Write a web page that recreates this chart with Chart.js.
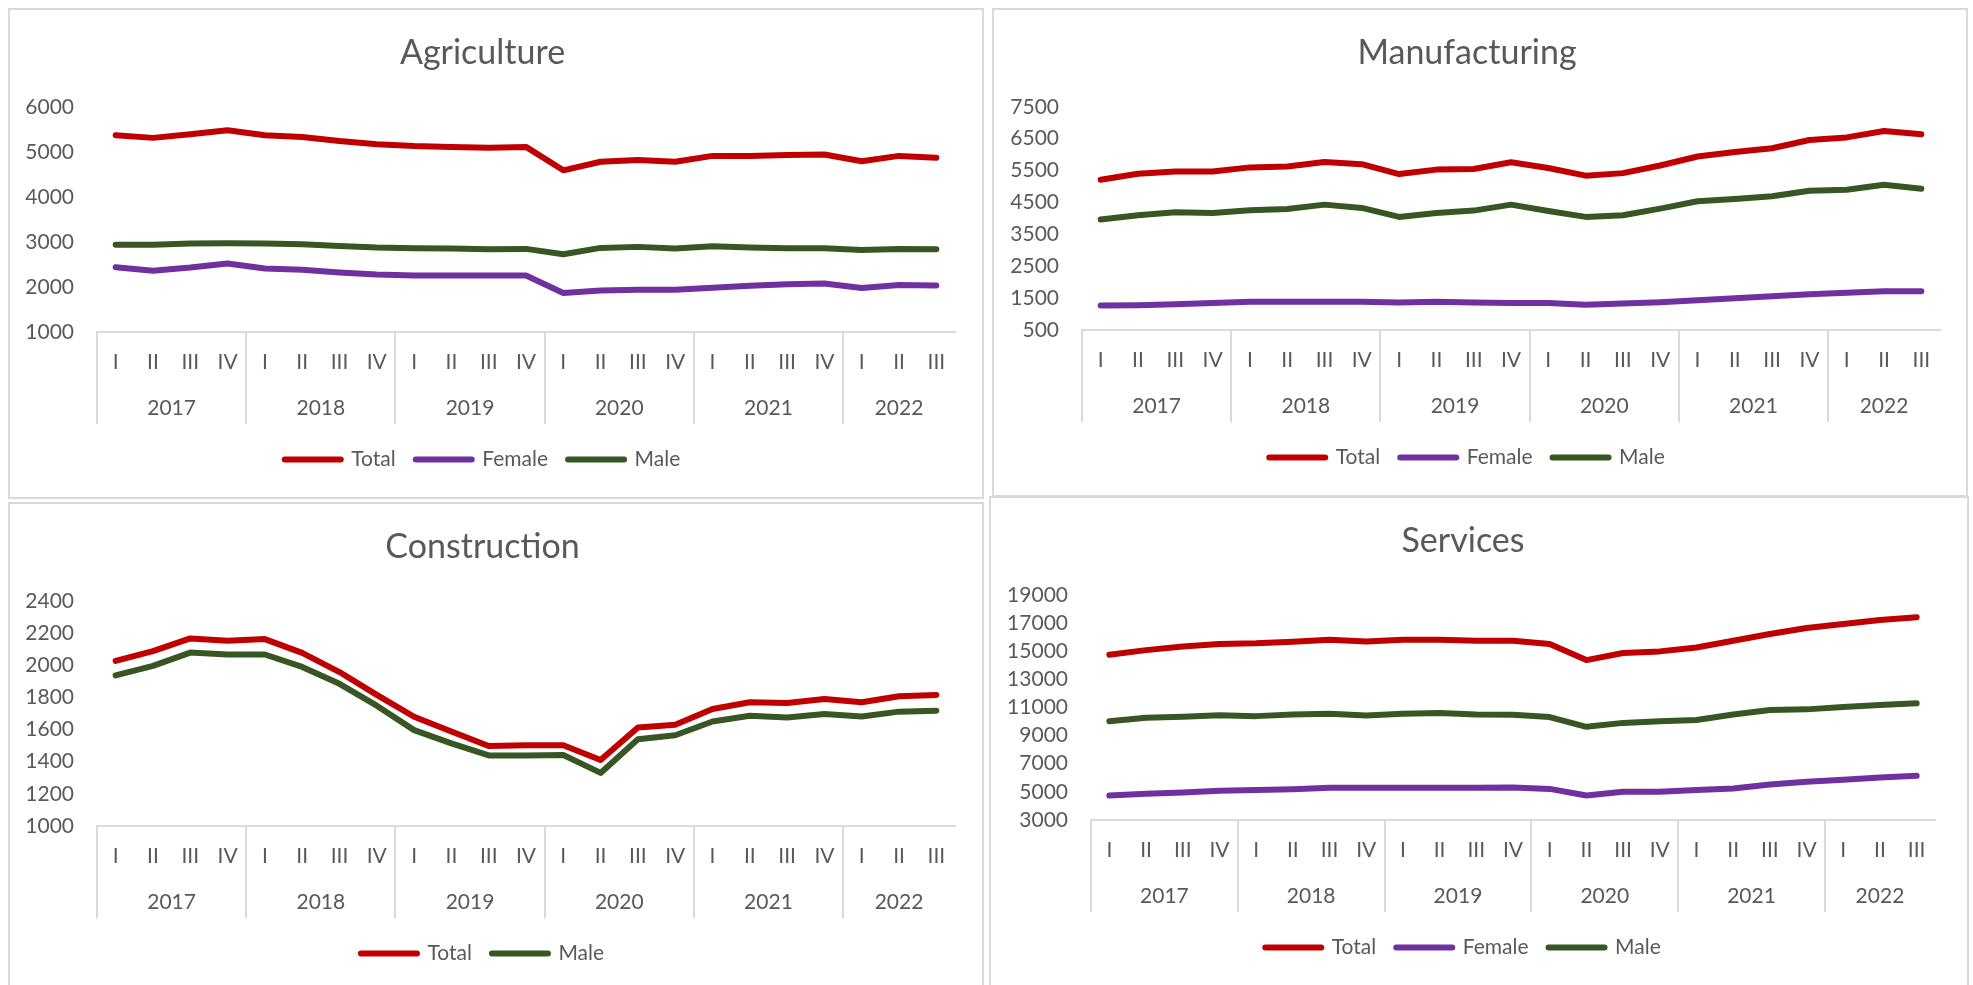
<!DOCTYPE html>
<html>
<head>
<meta charset="utf-8">
<script src="https://cdn.jsdelivr.net/npm/chart.js@4.4.1/dist/chart.umd.min.js"></script>
<style>
  body { margin: 0; background: #fff; width: 1973px; height: 985px; overflow: hidden; position: relative; }
  .panel { position: absolute; border: 2px solid #d9d9d9; box-sizing: border-box; background: #fff; overflow: hidden; }
  .panel canvas { position: absolute; left: 0; top: 0; }
</style>
</head>
<body>
<div class="panel" style="left:8px;top:8px;width:976px;height:491px"><canvas id="agri" width="972" height="487"></canvas></div>
<div class="panel" style="left:992px;top:8px;width:976px;height:489px"><canvas id="manu" width="972" height="485"></canvas></div>
<div class="panel" style="left:8px;top:502px;width:976px;height:490px"><canvas id="cons" width="972" height="487"></canvas></div>
<div class="panel" style="left:989px;top:496px;width:980px;height:496px"><canvas id="serv" width="976" height="487"></canvas></div>

<script>
// categories
const quarters = ['I','II','III','IV','I','II','III','IV','I','II','III','IV',
                  'I','II','III','IV','I','II','III','IV','I','II','III'];
const years = ['2017','2018','2019','2020','2021','2022'];
const quartersPerYear = [4, 4, 4, 4, 4, 3];

// Agriculture
const agriTicks = [1000, 2000, 3000, 4000, 5000, 6000];
const agriTotal  = [5370, 5310, 5390, 5480, 5370, 5330, 5240, 5170, 5130, 5110, 5090, 5110,
                    4590, 4780, 4820, 4780, 4910, 4910, 4930, 4940, 4790, 4910, 4870];
const agriFemale = [2440, 2360, 2430, 2520, 2410, 2380, 2320, 2275, 2255, 2255, 2255, 2255,
                    1865, 1920, 1937, 1937, 1980, 2025, 2062, 2078, 1975, 2045, 2032];
const agriMale   = [2935, 2935, 2964, 2972, 2964, 2950, 2912, 2875, 2860, 2853, 2838, 2845,
                    2726, 2867, 2890, 2853, 2905, 2875, 2860, 2860, 2823, 2845, 2838];

// Manufacturing
const manuTicks = [500, 1500, 2500, 3500, 4500, 5500, 6500, 7500];
const manuTotal  = [5210, 5400, 5470, 5470, 5600, 5630, 5770, 5700, 5390, 5530, 5550, 5760,
                    5580, 5340, 5420, 5660, 5940, 6080, 6200, 6460, 6540, 6740, 6640];
const manuFemale = [1270, 1280, 1310, 1350, 1384, 1384, 1384, 1384, 1363, 1384, 1363, 1343,
                    1343, 1290, 1332, 1374, 1436, 1499, 1561, 1623, 1665, 1717, 1717];
const manuMale   = [3964, 4100, 4190, 4170, 4255, 4297, 4432, 4328, 4047, 4172, 4245, 4432,
                    4234, 4047, 4099, 4307, 4536, 4609, 4692, 4869, 4900, 5056, 4931];

// Construction
const consTicks = [1000, 1200, 1400, 1600, 1800, 2000, 2200, 2400];
const consTotal = [2026, 2087, 2166, 2151, 2162, 2076, 1957, 1815, 1679, 1587, 1497, 1502,
                   1502, 1410, 1612, 1629, 1727, 1769, 1765, 1790, 1769, 1807, 1815];
const consMale  = [1936, 1995, 2078, 2066, 2066, 1989, 1884, 1748, 1596, 1514, 1439, 1439,
                   1441, 1330, 1539, 1564, 1650, 1685, 1675, 1696, 1681, 1711, 1717];

// Services
const servTicks = [3000, 5000, 7000, 9000, 11000, 13000, 15000, 17000, 19000];
const servTotal  = [14740, 15070, 15330, 15500, 15550, 15670, 15810, 15690, 15810, 15810, 15740, 15740,
                    15500, 14360, 14860, 14980, 15260, 15740, 16210, 16640, 16930, 17210, 17400];
const servFemale = [4740, 4860, 4950, 5070, 5140, 5190, 5290, 5290, 5290, 5290, 5290, 5310,
                    5210, 4740, 5000, 5000, 5140, 5240, 5520, 5710, 5860, 6020, 6140];
const servMale   = [10020, 10260, 10330, 10450, 10380, 10500, 10550, 10430, 10550, 10600, 10500, 10480,
                    10310, 9620, 9900, 10020, 10100, 10500, 10810, 10860, 11020, 11170, 11290];

const RED = '#c00000', PURPLE = '#7030a0', GREEN = '#375623';

// where each year group starts / where its label sits
const groupStarts = [];
const yearCenters = [];
let start = 0;
quartersPerYear.forEach(n => {
  groupStarts.push(start);
  yearCenters.push(start + (n - 1) / 2);
  start += n;
});

Chart.defaults.font.family = 'Lato, "Open Sans", sans-serif';
Chart.defaults.color = '#595959';

function lineChart(id, title, series, yTicks, leftWidth, rightPad) {
  const ctx = document.getElementById(id).getContext('2d');
  return new Chart(ctx, {
    type: 'line',
    data: {
      labels: quarters,
      datasets: series.map(s => ({
        label: s.label,
        data: s.data,
        borderColor: s.color,
        backgroundColor: s.color,
        borderWidth: 6,
        borderCapStyle: 'round',
        borderJoinStyle: 'round',
        pointRadius: 0,
        tension: 0,
        fill: false,
        xAxisID: 'x',
      })),
    },
    options: {
      responsive: false,
      animation: false,
      layout: { padding: { left: 0, right: rightPad, top: 0, bottom: 17 } },
      plugins: {
        tooltip: { enabled: false },
        title: {
          display: true,
          text: title,
          color: '#595959',
          font: { size: 34, weight: 'normal' },
          padding: { top: 23, bottom: 33 },
        },
        legend: {
          position: 'bottom',
          labels: {
            usePointStyle: true,
            pointStyle: 'line',
            pointStyleWidth: 56,
            padding: 20,
            color: '#595959',
            font: { size: 21 },
            generateLabels: chart =>
              Chart.defaults.plugins.legend.labels.generateLabels(chart)
                .map(item => Object.assign(item, { lineCap: 'round' })),
          },
        },
      },
      scales: {
        x: {
          type: 'category',
          offset: true,
          grid: {
            offset: true,
            drawOnChartArea: false,
            tickLength: 92,
            lineWidth: 2,
            color: c => groupStarts.includes(c.index) ? '#d9d9d9' : 'rgba(0,0,0,0)',
          },
          border: { display: true, color: '#d9d9d9', width: 2 },
          ticks: { padding: -74, autoSkip: false, maxRotation: 0, font: { size: 21 } },
          afterFit: s => { s.height = 50; },
        },
        x2: {
          type: 'linear',
          position: 'bottom',
          min: -0.5,
          max: quarters.length - 0.5,
          bounds: 'data',
          grid: { display: false, drawTicks: false },
          border: { display: false },
          afterBuildTicks: s => { s.ticks = yearCenters.map(v => ({ value: v })); },
          ticks: {
            padding: 14, autoSkip: false, maxRotation: 0, font: { size: 21 },
            callback: (v, i) => years[i],
          },
          afterFit: s => { s.height = 47; },
        },
        y: {
          min: yTicks[0],
          max: yTicks[yTicks.length - 1],
          grid: { display: false, drawTicks: false },
          border: { display: false },
          afterBuildTicks: s => { s.ticks = yTicks.map(v => ({ value: v })); },
          ticks: { padding: 23, autoSkip: false, font: { size: 21 }, callback: v => String(v) },
          afterFit: s => { s.width = leftWidth; },
        },
      },
    },
  });
}

lineChart('agri', 'Agriculture', [
  { label: 'Total', data: agriTotal, color: RED },
  { label: 'Female', data: agriFemale, color: PURPLE },
  { label: 'Male', data: agriMale, color: GREEN },
], agriTicks, 87, 27);

lineChart('manu', 'Manufacturing', [
  { label: 'Total', data: manuTotal, color: RED },
  { label: 'Female', data: manuFemale, color: PURPLE },
  { label: 'Male', data: manuMale, color: GREEN },
], manuTicks, 88, 26);

lineChart('cons', 'Construction', [
  { label: 'Total', data: consTotal, color: RED },
  { label: 'Male', data: consMale, color: GREEN },
], consTicks, 87, 27);

lineChart('serv', 'Services', [
  { label: 'Total', data: servTotal, color: RED },
  { label: 'Female', data: servFemale, color: PURPLE },
  { label: 'Male', data: servMale, color: GREEN },
], servTicks, 100, 32);
</script>
</body>
</html>
